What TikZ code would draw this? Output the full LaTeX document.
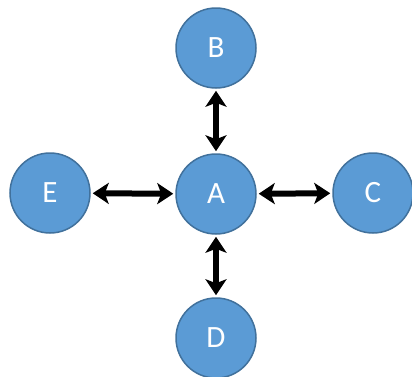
\documentclass[tikz,border=0pt]{standalone}
\usepackage{fontspec}
\setmainfont{Carlito}
\usetikzlibrary{arrows.meta}
\definecolor{nodeblue}{HTML}{5B9BD5}
\definecolor{nodeedge}{HTML}{41719C}
\tikzset{
  vertex/.style={circle, draw=nodeedge, line width=1.5pt, fill=nodeblue, minimum size=80pt, inner sep=0pt, text=white, font=\fontsize{31}{31}\selectfont},
  link/.style={{Stealth[length=16pt,width=21pt,inset=4pt]}-{Stealth[length=16pt,width=21pt,inset=4pt]}, line width=6pt, shorten >=2pt, shorten <=2pt}
}
\begin{document}
\begin{tikzpicture}[x=1pt, y=-1pt]
            \useasboundingbox (0,0) rectangle (412,376);
            \node[vertex] (A) at (216, 194) {A};
            \node[vertex] (B) at (216, 48) {B};
            \node[vertex] (C) at (373, 193) {C};
            \node[vertex] (D) at (216, 338) {D};
            \node[vertex] (E) at (50, 193) {E};

            \draw[link] (A) -- (B);
            \draw[link] (A) -- (C);
            \draw[link] (A) -- (D);
            \draw[link] (A) -- (E);
        \end{tikzpicture}
\end{document}
